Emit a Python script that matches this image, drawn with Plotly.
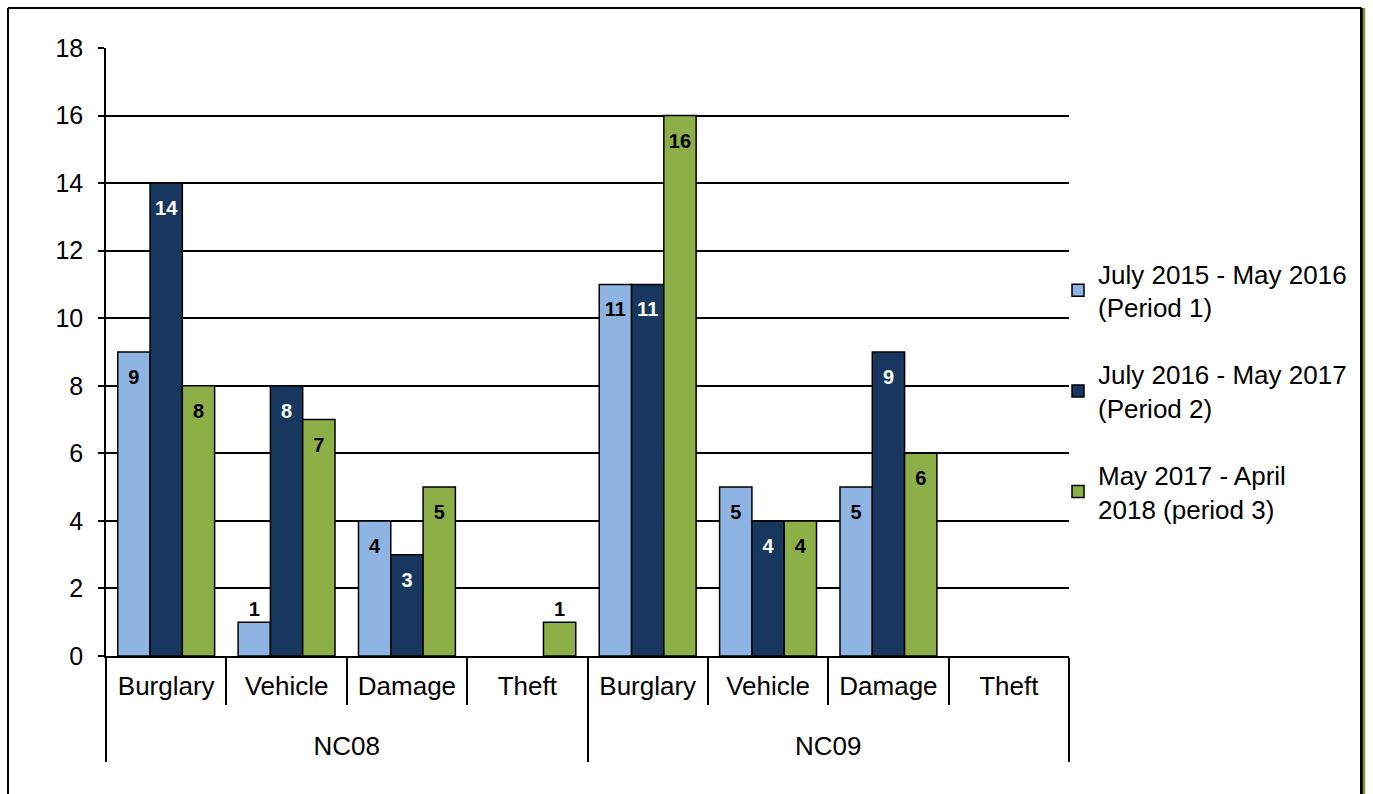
import plotly.graph_objects as go

# Crime counts by neighbourhood area and crime type for three periods
areas = ["NC08"] * 4 + ["NC09"] * 4
crimes = ["Burglary", "Vehicle", "Damage", "Theft"] * 2
period_names = [
    "July 2015 - May 2016<br>(Period 1)",
    "July 2016 - May 2017<br>(Period 2)",
    "May 2017 - April<br>2018 (period 3)",
]
period1 = [9, 1, 4, None, 11, 5, 5, None]
period2 = [14, 8, 3, None, 11, 4, 9, None]
period3 = [8, 7, 5, 1, 16, 4, 6, None]
y_ticks = list(range(0, 19, 2))

series = [period1, period2, period3]
bar_colors = ["#8EB4E3", "#17375E", "#8CAF48"]
label_colors = ["black", "white", "black"]
FONT = "Liberation Sans, Arial, sans-serif"

# plot-area geometry (pixels)
W, H = 1373, 794
L, R, T, B = 106, 1069, 48, 656
pw, ph = R - L, B - T


def px_x(x):
    return (x - L) / pw


def px_y(y):
    return (B - y) / ph


# the trailing blank line gives the crime-type row extra depth,
# pushing the area row further down
x_cats = [areas, [c + "<br> " for c in crimes]]

fig = go.Figure()

for i, (vals, name) in enumerate(zip(series, period_names)):
    fig.add_trace(go.Bar(
        x=x_cats, y=vals, name=name,
        marker=dict(color=bar_colors[i], line=dict(color="black", width=1.5)),
        legendgroup=f"g{i}", offsetgroup=f"g{i}",
    ))

# value labels: inside the top of tall bars, just above short ones
for i, vals in enumerate(series):
    ys = [None if v is None else (v - 0.8 if v >= 2 else v + 0.32) for v in vals]
    txt = ["" if v is None else str(v) for v in vals]
    cols = [label_colors[i] if (v is not None and v >= 2) else "black" for v in vals]
    fig.add_trace(go.Scatter(
        x=x_cats, y=ys, mode="text", text=txt,
        textfont=dict(family=FONT, size=20, color=cols, weight="bold"),
        textposition="middle center", showlegend=False, hoverinfo="skip",
        offsetgroup=f"g{i}",
    ))

fig.update_layout(
    width=W, height=H,
    margin=dict(l=L, r=W - R, t=T, b=H - B),
    paper_bgcolor="white", plot_bgcolor="white",
    barmode="group", bargap=0.195, bargroupgap=0,
    scattermode="group", scattergap=0.195,
    font=dict(family=FONT, size=26, color="black"),
    legend=dict(
        x=px_x(1058), xanchor="left", y=px_y(250), yanchor="top",
        font=dict(family=FONT, size=26, color="black"),
        tracegroupgap=30, bgcolor="rgba(0,0,0,0)",
    ),
    showlegend=True,
)

fig.update_yaxes(
    range=[0, 18], tickvals=y_ticks, ticks="outside", ticklen=6,
    tickcolor="black", tickwidth=1.5, ticklabelstandoff=10,
    showgrid=True, gridcolor="black", gridwidth=1.5,
    showline=True, linecolor="black", linewidth=1.5,
    zeroline=False, tickfont=dict(family=FONT, size=25, color="black"),
)
fig.update_xaxes(
    type="multicategory", ticks="outside", tickson="boundaries", ticklen=47,
    tickcolor="black", tickwidth=1.5, ticklabelstandoff=6,
    showline=True, linecolor="black", linewidth=1.5,
    showdividers=True, dividercolor="black", dividerwidth=1.5,
    tickfont=dict(family=FONT, size=26, color="black"),
)

# outer chart frame
fx0, fx1 = px_x(8), px_x(1361.5)
fy0, fy1 = px_y(800), px_y(8)
frame = [
    dict(x0=fx0, x1=fx1, y0=fy1, y1=fy1, w=2, c="black"),
    dict(x0=fx0, x1=fx0, y0=fy0, y1=fy1, w=2, c="black"),
    dict(x0=fx1, x1=fx1, y0=fy0, y1=fy1, w=3, c="black"),
    dict(x0=px_x(1364), x1=px_x(1364), y0=fy0, y1=fy1, w=2.5, c="#77933C"),
]
for f in frame:
    fig.add_shape(type="line", xref="paper", yref="paper",
                  x0=f["x0"], x1=f["x1"], y0=f["y0"], y1=f["y1"],
                  line=dict(color=f["c"], width=f["w"]))

fig.write_html("out.html")
